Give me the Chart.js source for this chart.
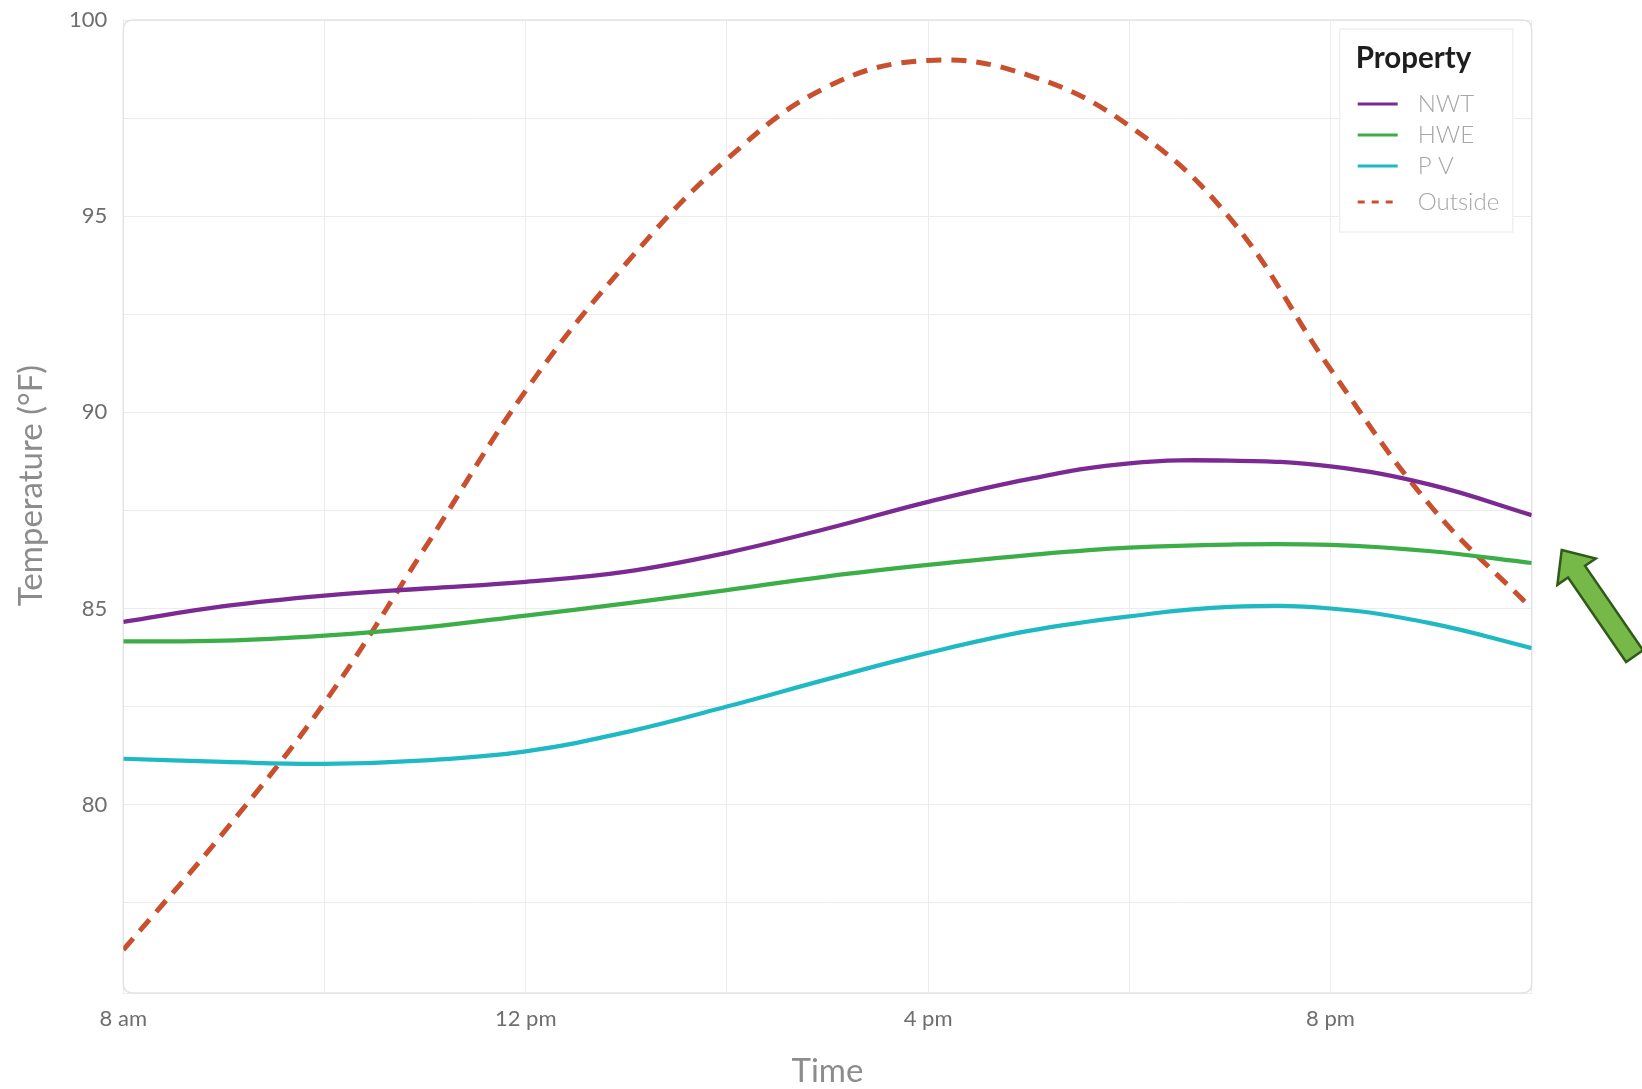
<!DOCTYPE html>
<html>
<head>
<meta charset="utf-8">
<title>Temperature by property</title>
<script src="https://cdn.jsdelivr.net/npm/chart.js@4.4.1/dist/chart.umd.min.js"></script>
<style>
  html, body { margin: 0; padding: 0; background: #ffffff; }
  #wrap { position: relative; width: 1642px; height: 1089px; }
</style>
</head>
<body>
<div id="wrap"><canvas id="c" width="1642" height="1089"></canvas></div>
<script>
// Hourly readings, 8 am through 10 pm
const hours = [8, 9, 10, 11, 12, 13, 14, 15, 16, 17, 18, 19, 20, 21, 22];
const nwt = [84.66, 85.06, 85.33, 85.51, 85.68, 85.94, 86.42, 87.04, 87.72, 88.30, 88.70, 88.77, 88.62, 88.15, 87.38];
const hwe = [84.16, 84.18, 84.31, 84.52, 84.82, 85.13, 85.47, 85.82, 86.11, 86.36, 86.55, 86.63, 86.62, 86.46, 86.16];
const pv = [81.17, 81.09, 81.04, 81.13, 81.36, 81.85, 82.50, 83.20, 83.87, 84.43, 84.80, 85.04, 85.00, 84.62, 83.99];
const outside = [76.30, 79.30, 82.60, 86.55, 90.55, 93.80, 96.45, 98.30, 98.97, 98.59, 97.30, 94.95, 91.10, 87.60, 85.00];

const seriesNames = ['NWT', 'HWE', 'P V', 'Outside'];
const labeledHours = [8, 12, 16, 20];
const yMin = 75.2, yMax = 100, yStep = 2.5, yLabelEvery = 5;
const legendTitle = 'Property';
const yTitle = 'Temperature (°F)';
const xTitle = 'Time';

const fmtHour = h => h === 12 ? '12 pm' : (h < 12 ? h + ' am' : (h - 12) + ' pm');
const toPoints = vals => hours.map((h, i) => ({ x: h, y: vals[i] }));

// Rounded frame around the plotting area
const plotFrame = {
  id: 'plotFrame',
  beforeDatasetsDraw(chart) {
    const { ctx, chartArea: a } = chart;
    const r = 10;
    ctx.save();
    ctx.strokeStyle = '#e3e3e3';
    ctx.lineWidth = 1.5;
    ctx.beginPath();
    ctx.moveTo(a.left + r, a.top);
    ctx.lineTo(a.right - r, a.top);
    ctx.quadraticCurveTo(a.right, a.top, a.right, a.top + r);
    ctx.lineTo(a.right, a.bottom - r);
    ctx.quadraticCurveTo(a.right, a.bottom, a.right - r, a.bottom);
    ctx.lineTo(a.left + r, a.bottom);
    ctx.quadraticCurveTo(a.left, a.bottom, a.left, a.bottom - r);
    ctx.lineTo(a.left, a.top + r);
    ctx.quadraticCurveTo(a.left, a.top, a.left + r, a.top);
    ctx.stroke();
    ctx.restore();
  }
};

// Vertical axis title, set a little above the middle of the plot
const axisTitle = {
  id: 'axisTitle',
  afterDraw(chart) {
    const { ctx, chartArea: a } = chart;
    ctx.save();
    ctx.translate(31, (a.top + a.bottom) / 2 - 21);
    ctx.rotate(-Math.PI / 2);
    ctx.textAlign = 'center';
    ctx.textBaseline = 'middle';
    ctx.fillStyle = '#8c8c8c';
    ctx.font = '33px Lato, "Open Sans", sans-serif';
    ctx.fillText(yTitle, 0, 0);
    ctx.restore();
  }
};

// Legend box in the top-right corner of the plot
const propertyLegend = {
  id: 'propertyLegend',
  afterDatasetsDraw(chart) {
    const { ctx, chartArea: a } = chart;
    const x0 = a.right - 192, y0 = a.top + 9, w = 173, h = 203;
    ctx.save();
    ctx.fillStyle = '#ffffff';
    ctx.strokeStyle = '#f0f0f0';
    ctx.lineWidth = 1.5;
    ctx.fillRect(x0, y0, w, h);
    ctx.strokeRect(x0, y0, w, h);

    ctx.textBaseline = 'middle';
    ctx.textAlign = 'left';
    ctx.fillStyle = '#1e1e1e';
    ctx.font = 'bold 29.5px Lato, "Open Sans", sans-serif';
    ctx.fillText(legendTitle, x0 + 16, y0 + 29);

    const rows = [75, 106, 137, 173];
    chart.data.datasets.forEach((ds, i) => {
      const y = y0 + rows[i];
      ctx.strokeStyle = ds.borderColor;
      ctx.lineWidth = 3;
      ctx.setLineDash(ds.borderDash && ds.borderDash.length ? [7, 7] : []);
      ctx.beginPath();
      ctx.moveTo(x0 + 18, y);
      ctx.lineTo(x0 + 58, y);
      ctx.stroke();
      ctx.setLineDash([]);
      ctx.fillStyle = '#a6a6a6';
      ctx.font = '300 24px Lato, "Open Sans", sans-serif';
      ctx.fillText(ds.label, x0 + 78, y);
    });
    ctx.restore();
  }
};

// Green call-out arrow at the right edge of the plot
const calloutArrow = {
  id: 'calloutArrow',
  afterDraw(chart) {
    const { ctx, chartArea: a } = chart;
    const tip = { x: a.right + 30, y: a.top + 530 };
    const d = { x: 0.566, y: 0.824 };      // direction from tip to tail
    const n = { x: 0.824, y: -0.566 };     // perpendicular
    const headLen = 26.3, headHalf = 23.3, shaftHalf = 10.3, total = 128.8;
    const pt = (along, side) => [tip.x + d.x * along + n.x * side, tip.y + d.y * along + n.y * side];
    const path = [
      pt(0, 0),
      pt(headLen, headHalf),
      pt(headLen, shaftHalf),
      pt(total, shaftHalf),
      pt(total, -shaftHalf),
      pt(headLen, -shaftHalf),
      pt(headLen, -headHalf)
    ];
    ctx.save();
    ctx.beginPath();
    path.forEach(([x, y], i) => i ? ctx.lineTo(x, y) : ctx.moveTo(x, y));
    ctx.closePath();
    ctx.fillStyle = '#77b948';
    ctx.fill();
    ctx.strokeStyle = '#2f5a18';
    ctx.lineWidth = 2.5;
    ctx.lineJoin = 'miter';
    ctx.stroke();
    ctx.restore();
  }
};

const lineStyle = (label, vals, color, width, dash) => ({
  label,
  data: toPoints(vals),
  borderColor: color,
  backgroundColor: color,
  borderWidth: width,
  borderDash: dash || [],
  fill: false,
  pointRadius: 0,
  tension: 0.4,
  borderCapStyle: 'butt'
});

new Chart(document.getElementById('c'), {
  type: 'line',
  data: {
    datasets: [
      lineStyle(seriesNames[0], nwt, '#7b2a94', 4.3),
      lineStyle(seriesNames[1], hwe, '#3cae48', 4.2),
      lineStyle(seriesNames[2], pv, '#1fb9c3', 4.2),
      lineStyle(seriesNames[3], outside, '#c8502e', 5, [15, 10])
    ]
  },
  options: {
    responsive: false,
    animation: false,
    layout: { padding: { top: 20, right: 110.3, bottom: 0, left: 0 } },
    plugins: { legend: { display: false }, tooltip: { enabled: false } },
    scales: {
      x: {
        type: 'linear',
        min: hours[0],
        max: hours[hours.length - 1],
        ticks: {
          stepSize: 2,
          autoSkip: false,
          maxRotation: 0,
          padding: 13,
          color: '#6e6e6e',
          font: { family: 'Lato', size: 22 },
          callback: v => labeledHours.includes(v) ? fmtHour(v) : ''
        },
        grid: { color: '#ececec', lineWidth: 1, drawTicks: false },
        border: { display: false },
        title: {
          display: true,
          text: xTitle,
          color: '#8c8c8c',
          font: { family: 'Lato', size: 33 },
          padding: { top: 0, bottom: -2 }
        },
        afterFit: s => { s.height = 96; }
      },
      y: {
        min: yMin,
        max: yMax,
        ticks: {
          stepSize: yStep,
          padding: 16,
          color: '#6e6e6e',
          font: { family: 'Lato', size: 22 },
          callback: v => (Math.abs(v % yLabelEvery) < 1e-6 ? String(v) : '')
        },
        grid: { color: '#ececec', lineWidth: 1, drawTicks: false },
        border: { display: false },
        title: { display: false },
        afterFit: s => { s.width = 123.3; s.paddingTop = 0; s.paddingBottom = 0; }
      }
    }
  },
  plugins: [plotFrame, propertyLegend, axisTitle, calloutArrow]
});
</script>
</body>
</html>
